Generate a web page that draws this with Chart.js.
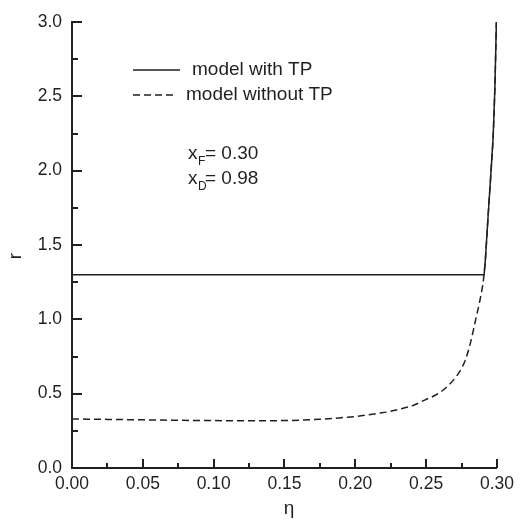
<!DOCTYPE html>
<html>
<head>
<meta charset="utf-8">
<script src="https://cdn.jsdelivr.net/npm/chart.js@4/dist/chart.umd.min.js"></script>
<style>
  html, body { margin: 0; padding: 0; background: #fff; }
  canvas { display: block; }
</style>
</head>
<body>
<canvas id="rChart" width="520" height="521"></canvas>
<script>
// reflux ratio r against eta, with and without the tangent pinch (TP)
const etaWithTP = [0, 0.2909, 0.2918, 0.2937, 0.2955, 0.2973, 0.2985, 0.2996];
const rWithTP   = [1.30, 1.30, 1.40, 1.69, 1.95, 2.23, 2.55, 3.00];

const etaNoTP = [0, 0.025, 0.05, 0.075, 0.10, 0.125, 0.15, 0.175, 0.19, 0.20, 0.2164, 0.225,
                 0.235, 0.24, 0.249, 0.2585, 0.2656, 0.272, 0.2775, 0.2815, 0.285, 0.2878,
                 0.2905, 0.2918, 0.2937, 0.2955, 0.2973, 0.2985, 0.2996];
const rNoTP   = [0.330, 0.327, 0.324, 0.321, 0.319, 0.318, 0.319, 0.328, 0.338, 0.346, 0.368, 0.381,
                 0.405, 0.418, 0.457, 0.500, 0.555, 0.625, 0.722, 0.850, 1.000, 1.120,
                 1.270, 1.400, 1.690, 1.950, 2.230, 2.550, 3.000];

const xTicks = [0, 0.05, 0.10, 0.15, 0.20, 0.25, 0.30];
const yTicks = [0, 0.5, 1.0, 1.5, 2.0, 2.5, 3.0];

const seriesNames = ['model with TP', 'model without TP'];
const axisTitles = ['η', 'r'];
const feedLabel = ['x', 'F', '= 0.30'];
const distLabel = ['x', 'D', '= 0.98'];

const ink = '#231f20';
const tickFont = { family: 'Liberation Sans, Arial, sans-serif', size: 17.5 };
const textFont = '19px "Liberation Sans", Arial, sans-serif';
const subFont = '12px "Liberation Sans", Arial, sans-serif';

const toPoints = (xs, ys) => xs.map((x, i) => ({ x: x, y: ys[i] }));

// inward major/minor ticks, axis titles, legend and composition labels
const decorations = {
  id: 'decorations',
  afterDraw(chart) {
    const ctx = chart.ctx;
    const xs = chart.scales.x, ys = chart.scales.y;
    const area = chart.chartArea;
    ctx.save();
    ctx.strokeStyle = ink;
    ctx.lineWidth = 2;
    ctx.beginPath();
    for (let i = 0; i < xTicks.length; i++) {
      const px = Math.round(xs.getPixelForValue(xTicks[i]));
      ctx.moveTo(px, area.bottom); ctx.lineTo(px, area.bottom - 9);
      if (i < xTicks.length - 1) {
        const mx = Math.round(xs.getPixelForValue((xTicks[i] + xTicks[i + 1]) / 2));
        ctx.moveTo(mx, area.bottom); ctx.lineTo(mx, area.bottom - 5);
      }
    }
    for (let i = 0; i < yTicks.length; i++) {
      const py = Math.round(ys.getPixelForValue(yTicks[i]));
      ctx.moveTo(area.left, py); ctx.lineTo(area.left + 10, py);
      if (i < yTicks.length - 1) {
        const my = Math.round(ys.getPixelForValue((yTicks[i] + yTicks[i + 1]) / 2));
        ctx.moveTo(area.left, my); ctx.lineTo(area.left + 6, my);
      }
    }
    ctx.stroke();

    // axis titles
    ctx.fillStyle = ink;
    ctx.font = textFont;
    ctx.textAlign = 'center';
    ctx.textBaseline = 'middle';
    ctx.fillText(axisTitles[0], 289, 509);
    ctx.save();
    ctx.translate(16, 256);
    ctx.rotate(-Math.PI / 2);
    ctx.fillText(axisTitles[1], 0, 0);
    ctx.restore();
    ctx.textAlign = 'left';

    // legend
    const sets = chart.data.datasets;
    const rows = [70, 95];
    sets.forEach((ds, i) => {
      ctx.beginPath();
      ctx.lineWidth = ds.borderWidth;
      ctx.setLineDash(ds.borderDash || []);
      ctx.moveTo(133, rows[i]);
      ctx.lineTo(i === 0 ? 180 : 176, rows[i]);
      ctx.stroke();
      ctx.setLineDash([]);
      ctx.fillText(ds.label, i === 0 ? 192 : 186, rows[i]);
    });

    // composition labels with subscripts
    [[feedLabel, 154], [distLabel, 179]].forEach(([parts, y]) => {
      ctx.font = textFont;
      ctx.fillText(parts[0], 188, y);
      ctx.font = subFont;
      ctx.fillText(parts[1], 198, y + 8);
      ctx.font = textFont;
      ctx.fillText(parts[2], 205, y);
    });
    ctx.restore();
  }
};

new Chart(document.getElementById('rChart'), {
  type: 'scatter',
  data: {
    datasets: [
      {
        label: seriesNames[0],
        data: toPoints(etaWithTP, rWithTP),
        showLine: true,
        borderColor: ink,
        borderWidth: 1.5,
        pointRadius: 0,
        tension: 0
      },
      {
        label: seriesNames[1],
        data: toPoints(etaNoTP, rNoTP),
        showLine: true,
        borderColor: ink,
        borderWidth: 1.5,
        borderDash: [7, 4],
        pointRadius: 0,
        cubicInterpolationMode: 'monotone'
      }
    ]
  },
  options: {
    responsive: false,
    animation: false,
    layout: { padding: { top: 22, right: 21, left: 0, bottom: 0 } },
    plugins: { legend: { display: false }, tooltip: { enabled: false } },
    scales: {
      x: {
        type: 'linear',
        min: 0, max: 0.30,
        afterBuildTicks: s => { s.ticks = xTicks.map(v => ({ value: v })); },
        afterFit: s => { s.height = 53; },
        ticks: { color: ink, font: tickFont, padding: 6, maxRotation: 0,
                 callback: v => v.toFixed(2) },
        grid: { display: false, drawTicks: false },
        border: { display: true, color: ink, width: 2 }
      },
      y: {
        type: 'linear',
        min: 0, max: 3.0,
        afterBuildTicks: s => { s.ticks = yTicks.map(v => ({ value: v })); },
        afterFit: s => { s.width = 72; },
        ticks: { color: ink, font: tickFont, padding: 10,
                 callback: v => v.toFixed(1) },
        grid: { display: false, drawTicks: false },
        border: { display: true, color: ink, width: 2 }
      }
    }
  },
  plugins: [decorations]
});
</script>
</body>
</html>
